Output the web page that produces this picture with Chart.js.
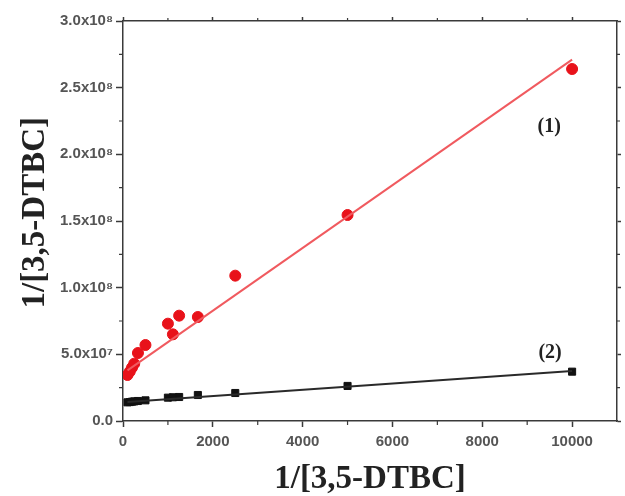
<!DOCTYPE html>
<html>
<head>
<meta charset="utf-8">
<script src="https://cdn.jsdelivr.net/npm/chart.js@4.4.1/dist/chart.umd.min.js"></script>
<style>
  html, body { margin: 0; padding: 0; background: #fff; }
  #wrap { width: 625px; height: 496px; }
</style>
</head>
<body>
<div id="wrap"><canvas id="myChart"></canvas></div>
<script>
// DATA SECTION
var invConc = [100, 150, 200, 250, 333, 500, 1000, 1111, 1250, 1667, 2500, 5000, 10000];
var series1 = [3.45e7, 3.7e7, 4.0e7, 4.3e7, 5.1e7, 5.7e7, 7.3e7, 6.5e7, 7.9e7, 7.8e7, 1.09e8, 1.545e8, 2.64e8];
var series2 = [1.40e7, 1.42e7, 1.45e7, 1.47e7, 1.50e7, 1.55e7, 1.75e7, 1.78e7, 1.80e7, 1.95e7, 2.10e7, 2.63e7, 3.70e7];
var fitX = [100, 10000];
var fit1 = [3.8e7, 2.71e8];
var fit2 = [1.42e7, 3.75e7];
var xTickValues = [0, 2000, 4000, 6000, 8000, 10000];
var yTickLabels = {
    0: '0.0', 5e7: '5.0x10\u2077', 1e8: '1.0x10\u2078', 1.5e8: '1.5x10\u2078',
    2e8: '2.0x10\u2078', 2.5e8: '2.5x10\u2078', 3e8: '3.0x10\u2078'
};
var curveNames = ['(1)', '(2)'];

function pts(xs, ys) {
    return xs.map(function(x, i) { return { x: x, y: ys[i] }; });
}
function setXTicks(s) {
    s.ticks = xTickValues.map(function(v) { return { value: v }; });
}

var axisColor = '#3a3a3a';
var tickFont = { family: 'Liberation Sans', size: 15, weight: 'bold' };
var titleFont = { family: 'Liberation Serif', size: 33, weight: 'bold', lineHeight: 1 };

// minor ticks + curve labels
var extras = {
    id: 'extras',
    afterDraw: function(chart) {
        var c = chart.ctx, a = chart.chartArea;
        var xs = chart.scales.x, ys = chart.scales.y;
        c.save();
        c.strokeStyle = axisColor;
        c.lineWidth = 1.2;
        for (var v = 1000; v < 11000; v += 2000) {
            var px = xs.getPixelForValue(v);
            c.beginPath();
            c.moveTo(px, a.bottom); c.lineTo(px, a.bottom + 4);
            c.moveTo(px, a.top); c.lineTo(px, a.top - 3);
            c.stroke();
        }
        for (var w = 2.5e7; w < 3e8; w += 5e7) {
            var py = ys.getPixelForValue(w);
            c.beginPath();
            c.moveTo(a.left, py); c.lineTo(a.left - 4, py);
            c.moveTo(a.right, py); c.lineTo(a.right + 3, py);
            c.stroke();
        }
        c.fillStyle = '#222';
        c.font = 'bold 20px "Liberation Serif"';
        c.textAlign = 'center';
        c.textBaseline = 'middle';
        c.fillText(curveNames[0], xs.getPixelForValue(9490), ys.getPixelForValue(2.21e8));
        c.fillText(curveNames[1], xs.getPixelForValue(9510), ys.getPixelForValue(5.1e7));
        c.restore();
    }
};

var ctx = document.getElementById('myChart').getContext('2d');

var chart = new Chart(ctx, {
    type: 'scatter',
    data: {
        datasets: [{
            label: 'fit 1',
            type: 'line',
            data: pts(fitX, fit1),
            borderColor: '#f05a5f',
            borderWidth: 2,
            pointRadius: 0,
            fill: false
        },
        {
            label: 'fit 2',
            type: 'line',
            data: pts(fitX, fit2),
            borderColor: '#2a2a2a',
            borderWidth: 2,
            pointRadius: 0,
            fill: false
        },
        {
            label: 'series 1',
            data: pts(invConc, series1),
            backgroundColor: '#e8121a',
            borderColor: '#e8121a',
            pointStyle: 'circle',
            pointRadius: 5.5
        },
        {
            label: 'series 2',
            data: pts(invConc, series2),
            backgroundColor: '#111',
            borderColor: '#111',
            pointStyle: 'rect',
            pointRadius: 5
        }]
    },
    options: {
        responsive: true,
        maintainAspectRatio: false,
        animation: false,
        layout: { padding: { top: 17, right: 4, bottom: 0, left: 0 } },
        plugins: { legend: { display: false }, tooltip: { enabled: false } },
        scales: {
            x: {
                type: 'linear',
                position: 'bottom',
                min: 0,
                max: 11000,
                afterBuildTicks: setXTicks,
                afterFit: function(s) { s.height = 75; },
                ticks: {
                    autoSkip: false,
                    maxRotation: 0,
                    color: '#555',
                    font: tickFont,
                    padding: 6,
                    callback: function(v) { return String(v); }
                },
                grid: { drawOnChartArea: false, tickLength: 6, tickColor: axisColor, tickWidth: 1.5 },
                border: { color: axisColor, width: 1.5 },
                title: { display: true, text: '1/[3,5-DTBC]', color: '#222', font: titleFont, padding: { top: 0, bottom: 0 } }
            },
            y: {
                type: 'linear',
                position: 'left',
                min: 0,
                max: 3e8,
                afterFit: function(s) { s.width = 123; },
                ticks: {
                    stepSize: 5e7,
                    color: '#555',
                    font: tickFont,
                    padding: 3,
                    callback: function(v) { return yTickLabels[v] !== undefined ? yTickLabels[v] : ''; }
                },
                grid: { drawOnChartArea: false, tickLength: 7, tickColor: axisColor, tickWidth: 1.5 },
                border: { color: axisColor, width: 1.5 },
                title: { display: true, text: '\u00a0\u00a01/[3,5-DTBC]', color: '#222', font: titleFont, padding: { top: 19, bottom: 0 } }
            },
            x2: {
                type: 'linear',
                position: 'top',
                min: 0,
                max: 11000,
                afterBuildTicks: setXTicks,
                afterFit: function(s) { s.height = 4; },
                ticks: { display: false, autoSkip: false },
                grid: { drawOnChartArea: false, tickLength: 4, tickColor: axisColor, tickWidth: 1.5 },
                border: { color: axisColor, width: 1.5 }
            },
            y2: {
                type: 'linear',
                position: 'right',
                min: 0,
                max: 3e8,
                afterFit: function(s) { s.width = 4; },
                ticks: { stepSize: 5e7, display: false },
                grid: { drawOnChartArea: false, tickLength: 4, tickColor: axisColor, tickWidth: 1.5 },
                border: { color: axisColor, width: 1.5 }
            }
        }
    },
    plugins: [extras]
});
</script>
</body>
</html>
